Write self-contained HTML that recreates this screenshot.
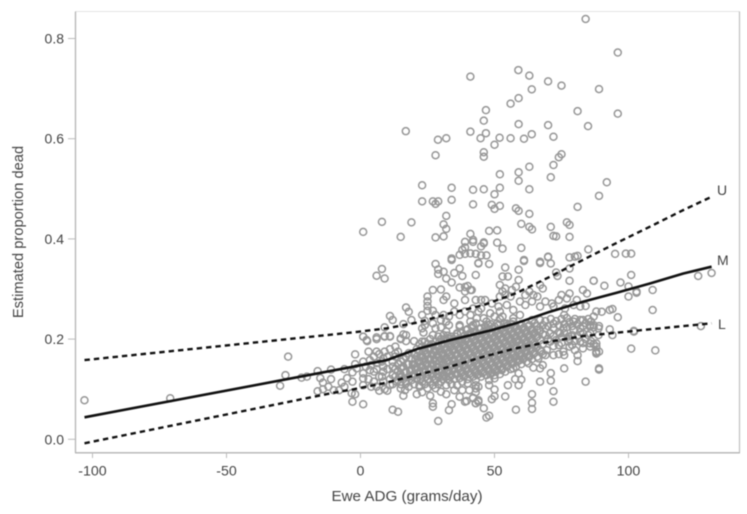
<!DOCTYPE html>
<html lang="en">
<head>
<meta charset="utf-8">
<title>Estimated proportion dead vs Ewe ADG</title>
<style>
html,body{margin:0;padding:0;background:#fff;width:747px;height:514px;overflow:hidden}
svg{display:block;filter:blur(.45px)}
text{font-family:"Liberation Sans",sans-serif;fill:#444}
</style>
</head>
<body>
<svg id="chart" width="747" height="514" viewBox="0 0 747 514" xmlns="http://www.w3.org/2000/svg"></svg>
<script>
const xTicks = [-100, -50, 0, 50, 100];
const yTicks = [0.0, 0.2, 0.4, 0.6, 0.8];
const xTitle = "Ewe ADG (grams/day)";
const yTitle = "Estimated proportion dead";

const curveM = [[-103,.044],[-3.9,.1437],[9.8,.158],[21,.18],[33.4,.198],[49,.218],[58,.2315],[70.7,.2547],[83,.2747],[95.6,.2927],[108,.311],[120.5,.331],[131,.3445]];
const curveU = [[-103,.158],[-3.9,.2128],[9.8,.2215],[21,.2327],[33.4,.2515],[46,.268],[58,.2914],[70.7,.3246],[83,.358],[95.6,.392],[108,.4243],[120.5,.4577],[131,.484]];
const curveL = [[-103,-.008],[-10,.093],[-3.9,.0984],[8.5,.1117],[21,.1283],[33.4,.145],[46,.165],[58,.1816],[70.7,.195],[83,.206],[95.6,.2128],[108,.2195],[120.5,.226],[131,.2315]];

const upperPoints = [[84,.839],[96,.772],[41,.724],[58.9,.737],[63,.726],[70,.7145],[75,.706],[89,.699],[63.9,.6985],[59,.681],[56,.67],[46.8,.657],[81,.655],[96,.65],[46,.636],[59,.629],[70,.627],[84.9,.625],[16.9,.615],[41,.614],[46.8,.611],[44.8,.601],[28.9,.598],[32,.601],[51.9,.602],[56,.601],[61,.6],[63.9,.609],[72,.604],[50,.588],[46,.573],[46,.564],[28,.567],[75,.569],[74,.563],[72,.5475],[63,.544],[52,.529],[59,.533],[71,.523],[59,.516],[23,.507],[34,.502],[42,.498],[46,.499],[52,.502],[63,.499],[91.9,.513],[50,.489],[89,.486],[23,.475],[27,.475],[29,.475],[28,.47],[34,.478],[42,.469],[49,.468],[52,.466],[50,.46],[58,.461],[59,.456],[63,.45],[81,.464],[32,.446],[8,.434],[19,.433],[31,.429],[32,.42],[60,.43],[63,.424],[64,.419],[77,.433],[78,.428],[71,.424],[1,.414],[15,.404],[28,.403],[31,.405],[41,.41],[48,.416],[51,.417],[72,.406],[73,.405],[78,.404],[39,.394],[42,.398],[46,.393],[45,.385],[51,.3925],[53,.3805],[60,.382],[85,.379],[39,.383],[38,.378],[37,.368],[39,.37],[41,.371],[43,.37],[45,.367],[47,.367],[34,.361],[70,.3645],[81,.366],[80,.3645],[78,.363],[95,.37],[99,.3705],[101,.3705],[61,.358],[67,.3545]];

const midLeftPoints = [[8,.34],[6,.3265],[9,.321],[28,.35],[29,.339],[29,.33],[31,.3345],[32,.321],[34,.313],[35,.332],[37,.341],[38,.326],[34,.358],[43,.328],[44,.351],[27,.298],[30,.299],[25,.285],[25,.275],[25,.266],[31,.278],[32,.285],[35,.271],[37,.303],[39,.304],[40,.306],[39,.295],[41,.298],[43,.278],[39,.278],[17,.263],[18,.2545],[11,.246],[12,.238],[19,.238],[16,.23],[9,.2235],[23,.248],[25,.2565],[27,.2565],[28,.248],[31,.248],[33,.245],[35,.255],[37,.248],[39,.255],[41,.248],[44,.255],[30,.238],[32,.235],[24,.2365],[23,.2215],[24,.228],[27,.2315],[28,.2215],[30,.2235],[33,.228],[37,.228],[41,.235],[43,.2315],[11,.206],[9,.206],[6,.2035],[1,.205],[2.3,.198],[16,.2095],[15,.2015],[17,.208],[23.5,.213],[27,.208],[31,.208],[36,.2115],[40,.208],[43,.2115]];

const midRightPoints = [[42,.394],[46,.391],[44,.352],[48,.35],[54,.343],[61,.356],[67,.352],[70,.3635],[71,.351],[53,.325],[55,.325],[59,.3385],[59,.318],[73,.333],[73.5,.326],[78,.341],[78,.3165],[87,.3165],[58,.3045],[52,.308],[54,.301],[53,.295],[56.5,.298],[54,.288],[56,.285],[52,.285],[41.5,.298],[68,.301],[67,.308],[63,.295],[64.5,.288],[61.5,.288],[59.5,.275],[66,.285],[69,.275],[61.5,.268],[64,.275],[67,.265],[71.4,.271],[75,.288],[78,.291],[83,.298],[84.5,.291],[74,.278],[77,.281],[80.7,.278],[84,.266],[82,.265],[76.3,.261],[72,.265],[79.5,.268],[45,.278],[46.5,.278],[49,.271],[51.5,.265],[42,.261],[45,.261],[48.4,.2515],[52,.255],[54.6,.268],[57,.258],[50,.245],[53,.245],[57,.2415],[59.5,.248],[41.5,.225],[43.4,.2415],[46,.2415],[47.7,.228],[51,.231],[54.6,.231],[76,.248],[83,.238],[86,.235],[88,.255],[79.5,.235],[72,.231],[69,.2215],[65.8,.218],[75.7,.2215],[82,.2215],[85.7,.228],[79.5,.218],[88.8,.2215],[74.5,.2115],[70.8,.2115],[77.6,.205],[85.7,.2115],[88.8,.208],[83,.2115]];

const farRightPoints = [[87,.3165],[91,.3065],[97,.313],[101,.328],[100,.305],[103,.295],[103,.2925],[100,.285],[109,.298],[109,.258],[126,.326],[131,.332],[90,.2545],[93,.258],[94,.26],[96,.2435],[87,.245],[87,.228],[89,.226],[85.6,.225],[87,.2235],[93,.2195],[94,.208],[102,.215],[102,.2165],[127,.226],[101,.181],[110,.1775],[88,.1915],[87,.19],[88,.185],[88,.1735],[89,.175],[89,.1415],[85.6,.1915]];

const lowerLeftPoints = [[-103,.078],[-71,.082],[-27,.165],[-30,.107],[-28,.128],[-22,.123],[-20,.125],[-16,.136],[-14,.113],[-15,.122],[-14,.1],[-16,.096],[-12,.105],[-11,.12],[-11,.139],[-10,.098],[-8,.098],[-7,.113],[-6,.105],[-2,.1695],[1,.205],[2.5,.196],[6,.2],[9,.205],[11,.205],[15,.2],[17,.196],[20,.196],[23,.195],[24,.195],[6,.175],[8.5,.1615],[13,.1715],[1,.155],[3.5,.158],[6,.152],[-1.4,.1415],[-3,.1335],[1,.1315],[5,.135],[8.5,.135],[1,.1215],[12,.128],[-3,.115],[1,.108],[-2,.09],[-3.3,.092],[-3,.075],[1,.07],[7,.097],[10,.097],[16,.087],[21,.09],[23,.094],[26,.087],[27,.072],[27,.065],[32,.09],[34,.07],[33,.058],[12,.059],[14,.055],[29,.0365],[39,.075],[39.6,.0765],[43,.072],[44,.075],[42,.082],[37,.085],[35,.098],[38,.098],[40.6,.098],[43,.1015],[30,.095],[28,.102],[25,.102],[16.6,.098],[15,.1015],[11,.108],[13.5,.115],[17,.1115],[8.5,.115],[22,.108],[27,.108],[32,.108],[36,.108],[40,.1115],[43,.108],[12,.145],[8.5,.145],[15,.1415],[3.5,.138]];

const lowerRightPoints = [[44,.105],[48,.108],[43,.094],[50,.0995],[42,.083],[44,.078],[43,.072],[50,.086],[49,.08],[46,.062],[47,.0435],[48,.047],[54,.0855],[58,.059],[55,.108],[57.7,.12],[59,.108],[60,.119],[59,.1315],[57,.1415],[67,.115],[71,.132],[71,.117],[72,.096],[72,.075],[64,.09],[64,.073],[64,.0605],[76,.1415],[84,.115],[89,.139],[81,.156],[81,.168],[76,.168],[74,.17],[72,.168],[69,.168],[68,.148],[64.5,.143],[62.7,.1515],[67,.1415],[66.4,.1615],[63,.165],[69.5,.178],[74,.188],[78,.185],[80,.178],[83,.1815],[85.7,.185],[88,.175],[88,.171],[77.6,.195],[82,.195],[75.7,.175],[57,.168],[59.5,.158],[54.6,.168],[60,.1715],[52.7,.138],[50,.1215],[54.6,.145],[56.5,.1515],[65,.188],[67.6,.175],[70.8,.195],[62,.185],[58,.195]];

const denseCloud = [[13,.125],[13,.14],[14,.118],[14,.15],[15,.13],[15,.125],[16,.12],[16,.145],[16,.16],[17,.135],[17,.165],[17,.115],[18,.125],[18,.15],[18,.172],[18,.105],[19,.14],[19,.16],[19,.118],[20,.13],[20,.15],[20,.17],[20,.11],[21,.12],[21,.145],[21,.165],[21,.18],[22,.135],[22,.155],[22,.175],[22,.105],[22,.19],[23,.125],[23,.145],[23,.165],[23,.185],[23,.115],[24,.14],[24,.16],[24,.178],[24,.11],[25,.13],[25,.15],[25,.17],[25,.19],[25,.12],[26,.115],[26,.14],[26,.16],[26,.18],[26,.2],[27,.125],[27,.15],[27,.168],[27,.188],[28,.135],[28,.155],[28,.175],[28,.195],[28,.118],[29,.125],[29,.145],[29,.165],[29,.185],[29,.205],[29,.11],[30,.115],[30,.14],[30,.16],[30,.18],[30,.2],[31,.13],[31,.15],[31,.17],[31,.19],[31,.12],[32,.125],[32,.145],[32,.163],[32,.182],[32,.198],[32,.215],[33,.135],[33,.155],[33,.175],[33,.192],[33,.118],[34,.128],[34,.148],[34,.168],[34,.186],[34,.205],[34,.11],[35,.14],[35,.158],[35,.178],[35,.196],[35,.12],[36,.13],[36,.15],[36,.17],[36,.19],[36,.21],[37,.122],[37,.142],[37,.162],[37,.182],[37,.2],[37,.225],[38,.135],[38,.155],[38,.175],[38,.195],[38,.115],[39,.128],[39,.148],[39,.168],[39,.188],[39,.208],[40,.14],[40,.16],[40,.18],[40,.2],[40,.12],[40,.22],[41,.132],[41,.152],[41,.172],[41,.192],[41,.212],[42,.125],[42,.145],[42,.165],[42,.185],[42,.205],[42,.228],[43,.138],[43,.158],[43,.178],[43,.198],[43,.118],[44,.13],[44,.15],[44,.17],[44,.19],[44,.21],[45,.142],[45,.162],[45,.182],[45,.202],[45,.125],[45,.222],[46,.135],[46,.155],[46,.175],[46,.195],[46,.215],[47,.128],[47,.148],[47,.168],[47,.188],[47,.208],[47,.235],[48,.14],[48,.16],[48,.18],[48,.2],[48,.22],[48,.118],[49,.132],[49,.152],[49,.172],[49,.192],[49,.212],[50,.145],[50,.165],[50,.185],[50,.205],[50,.225],[50,.128],[51,.138],[51,.158],[51,.178],[51,.198],[51,.218],[52,.15],[52,.17],[52,.19],[52,.21],[52,.13],[52,.24],[53,.142],[53,.162],[53,.182],[53,.202],[53,.222],[54,.155],[54,.175],[54,.195],[54,.215],[54,.135],[55,.148],[55,.168],[55,.188],[55,.208],[55,.228],[56,.16],[56,.18],[56,.2],[56,.22],[56,.14],[57,.153],[57,.173],[57,.193],[57,.213],[57,.235],[58,.165],[58,.185],[58,.205],[58,.225],[58,.145],[59,.158],[59,.178],[59,.198],[59,.218],[60,.17],[60,.19],[60,.21],[60,.15],[60,.23],[61,.163],[61,.183],[61,.203],[61,.223],[62,.175],[62,.195],[62,.215],[62,.155],[63,.168],[63,.188],[63,.208],[63,.228],[64,.18],[64,.2],[64,.22],[64,.16],[65,.173],[65,.193],[65,.213],[66,.185],[66,.205],[66,.165],[67,.178],[67,.198],[67,.218],[68,.19],[68,.21],[68,.17]];

const denseCloudInner = [[16.5,.133],[17.5,.15],[18.5,.135],[19.5,.125],[19.5,.15],[20.5,.14],[20.5,.16],[21.5,.13],[21.5,.155],[22.5,.145],[22.5,.165],[22.5,.12],[23.5,.135],[23.5,.155],[23.5,.175],[24.5,.125],[24.5,.15],[24.5,.17],[25.5,.14],[25.5,.16],[25.5,.18],[26.5,.13],[26.5,.15],[26.5,.17],[26.5,.19],[27.5,.14],[27.5,.16],[27.5,.178],[27.5,.12],[28.5,.13],[28.5,.15],[28.5,.168],[28.5,.185],[29.5,.135],[29.5,.155],[29.5,.175],[29.5,.195],[30.5,.125],[30.5,.15],[30.5,.17],[30.5,.19],[31.5,.14],[31.5,.16],[31.5,.18],[31.5,.2],[32.5,.135],[32.5,.155],[32.5,.172],[32.5,.19],[32.5,.207],[33.5,.125],[33.5,.145],[33.5,.165],[33.5,.183],[33.5,.2],[34.5,.138],[34.5,.158],[34.5,.177],[34.5,.195],[35.5,.13],[35.5,.15],[35.5,.168],[35.5,.187],[35.5,.205],[36.5,.14],[36.5,.16],[36.5,.18],[36.5,.2],[37.5,.132],[37.5,.152],[37.5,.172],[37.5,.192],[37.5,.212],[38.5,.125],[38.5,.145],[38.5,.165],[38.5,.185],[38.5,.205],[39.5,.138],[39.5,.158],[39.5,.178],[39.5,.198],[39.5,.218],[40.5,.13],[40.5,.15],[40.5,.17],[40.5,.19],[40.5,.21],[41.5,.142],[41.5,.162],[41.5,.182],[41.5,.202],[42.5,.135],[42.5,.155],[42.5,.175],[42.5,.195],[42.5,.215],[43.5,.128],[43.5,.148],[43.5,.168],[43.5,.188],[43.5,.208],[44.5,.14],[44.5,.16],[44.5,.18],[44.5,.2],[44.5,.22],[45.5,.132],[45.5,.152],[45.5,.172],[45.5,.192],[45.5,.212],[46.5,.145],[46.5,.165],[46.5,.185],[46.5,.205],[46.5,.225],[47.5,.138],[47.5,.158],[47.5,.178],[47.5,.198],[47.5,.218],[48.5,.13],[48.5,.15],[48.5,.17],[48.5,.19],[48.5,.21],[48.5,.23],[49.5,.142],[49.5,.162],[49.5,.182],[49.5,.202],[49.5,.222],[50.5,.135],[50.5,.155],[50.5,.175],[50.5,.195],[50.5,.215],[51.5,.148],[51.5,.168],[51.5,.188],[51.5,.208],[51.5,.228],[52.5,.14],[52.5,.16],[52.5,.18],[52.5,.2],[52.5,.22],[53.5,.152],[53.5,.172],[53.5,.192],[53.5,.212],[53.5,.232],[54.5,.145],[54.5,.165],[54.5,.185],[54.5,.205],[54.5,.225],[55.5,.158],[55.5,.178],[55.5,.198],[55.5,.218],[56.5,.15],[56.5,.17],[56.5,.19],[56.5,.21],[56.5,.23],[57.5,.163],[57.5,.183],[57.5,.203],[57.5,.223],[58.5,.155],[58.5,.175],[58.5,.195],[58.5,.215],[59.5,.168],[59.5,.188],[59.5,.208],[59.5,.228],[60.5,.16],[60.5,.18],[60.5,.2],[60.5,.22],[61.5,.173],[61.5,.193],[61.5,.213],[62.5,.165],[62.5,.185],[62.5,.205],[62.5,.225],[63.5,.178],[63.5,.198],[63.5,.218],[64.5,.17],[64.5,.21],[65.5,.183],[65.5,.203]];

const rightCluster = [[64,.238],[65,.232],[66,.226],[67,.238],[68,.228],[69,.236],[70,.226],[71,.24],[72,.222],[73,.236],[74,.228],[75,.24],[76,.23],[77,.242],[77,.224],[78,.234],[79,.226],[80,.24],[81,.23],[82,.238],[83,.226],[84,.232],[85,.24],[69,.208],[70,.2],[72,.206],[73,.198],[74,.214],[75,.204],[76,.212],[78,.2],[79,.208],[80,.196],[81,.206],[82,.214],[84,.2],[85,.208],[86,.196],[72,.186],[75,.192],[79,.188],[83,.192]];

const leftCluster = [[3,.175],[4,.148],[5,.165],[6,.14],[7,.17],[8,.125],[8,.155],[9,.175],[10,.14],[10,.165],[11,.12],[11,.18],[12,.155],[12,.11],[13,.165],[13,.185],[14,.135],[14,.175],[15,.155],[15,.11],[-5,.122],[-6,.14],[-2,.15],[2,.145],[3,.12],[4,.105],[5,.115],[6,.105],[7,.125],[9,.1]];

const svgNS = "http://www.w3.org/2000/svg";
const svg = document.getElementById("chart");
const xPos = v => 360.5 + 2.68 * v;
const yPos = v => 439.3 - 501 * v;

function make(tag, props, parent) {
  const el = document.createElementNS(svgNS, tag);
  for (const k in props) el.setAttribute(k, props[k]);
  (parent || svg).appendChild(el);
  return el;
}

const pointLayer = make("g", {});


[upperPoints, midLeftPoints, midRightPoints, farRightPoints, lowerLeftPoints, lowerRightPoints, denseCloud, denseCloudInner, rightCluster, leftCluster].forEach(group => {
  group.forEach(p => {
    const c = make("circle", {cx: xPos(p[0]), cy: yPos(p[1]), r: 3.5, fill: "none", stroke: "#979797", "stroke-width": 1.5}, pointLayer);
    
    
  });
});

function curvePath(points) {
  return points.map((p, i) => (i ? "L" : "M") + xPos(p[0]).toFixed(1) + " " + yPos(p[1]).toFixed(1)).join(" ");
}
const lineM = make("path", {d: curvePath(curveM), fill: "none", stroke: "#111", "stroke-width": 2.6, "stroke-linejoin": "round"});


const lineU = make("path", {d: curvePath(curveU), fill: "none", stroke: "#111", "stroke-width": 2.4, "stroke-dasharray": "5.4 4"});


const lineL = make("path", {d: curvePath(curveL), fill: "none", stroke: "#111", "stroke-width": 2.4, "stroke-dasharray": "5.4 4"});



const frameTop = make("line", {x1: 75.5, y1: 11.5, x2: 739.5, y2: 11.5, stroke: "#e4e4e4", "stroke-width": 1});


const frameRight = make("line", {x1: 739.5, y1: 11.5, x2: 739.5, y2: 452.8, stroke: "#c0c0c0", "stroke-width": 1.2});


const axisY = make("line", {x1: 75.5, y1: 11.5, x2: 75.5, y2: 452.8, stroke: "#b4b4b4", "stroke-width": 1.3});


const axisX = make("line", {x1: 75, y1: 452.8, x2: 740, y2: 452.8, stroke: "#b4b4b4", "stroke-width": 1.3});



xTicks.forEach(v => {
  const t = make("line", {x1: xPos(v), y1: 453, x2: xPos(v), y2: 458, stroke: "#bbb", "stroke-width": 1});
  
  
  const l = make("text", {x: xPos(v), y: 475.7, "text-anchor": "middle", "font-size": 14.2});
  
  
  l.textContent = String(v);
});
yTicks.forEach(v => {
  const t = make("line", {x1: 68, y1: yPos(v), x2: 75, y2: yPos(v), stroke: "#bbb", "stroke-width": 1});
  
  
  const l = make("text", {x: 64, y: yPos(v) + 5, "text-anchor": "end", "font-size": 14});
  
  
  l.textContent = v.toFixed(1);
});

const xLabel = make("text", {x: 407, y: 501, "text-anchor": "middle", "font-size": 15.2});


xLabel.textContent = xTitle;
const yLabel = make("text", {transform: "translate(23,232) rotate(-90)", "text-anchor": "middle", "font-size": 14.7});


yLabel.textContent = yTitle;

const labelU = make("text", {x: 717, y: 195, "font-size": 14});


labelU.textContent = "U";
const labelM = make("text", {x: 717, y: 265, "font-size": 14});


labelM.textContent = "M";
const labelL = make("text", {x: 718, y: 329, "font-size": 14});


labelL.textContent = "L";
</script>
</body>
</html>
